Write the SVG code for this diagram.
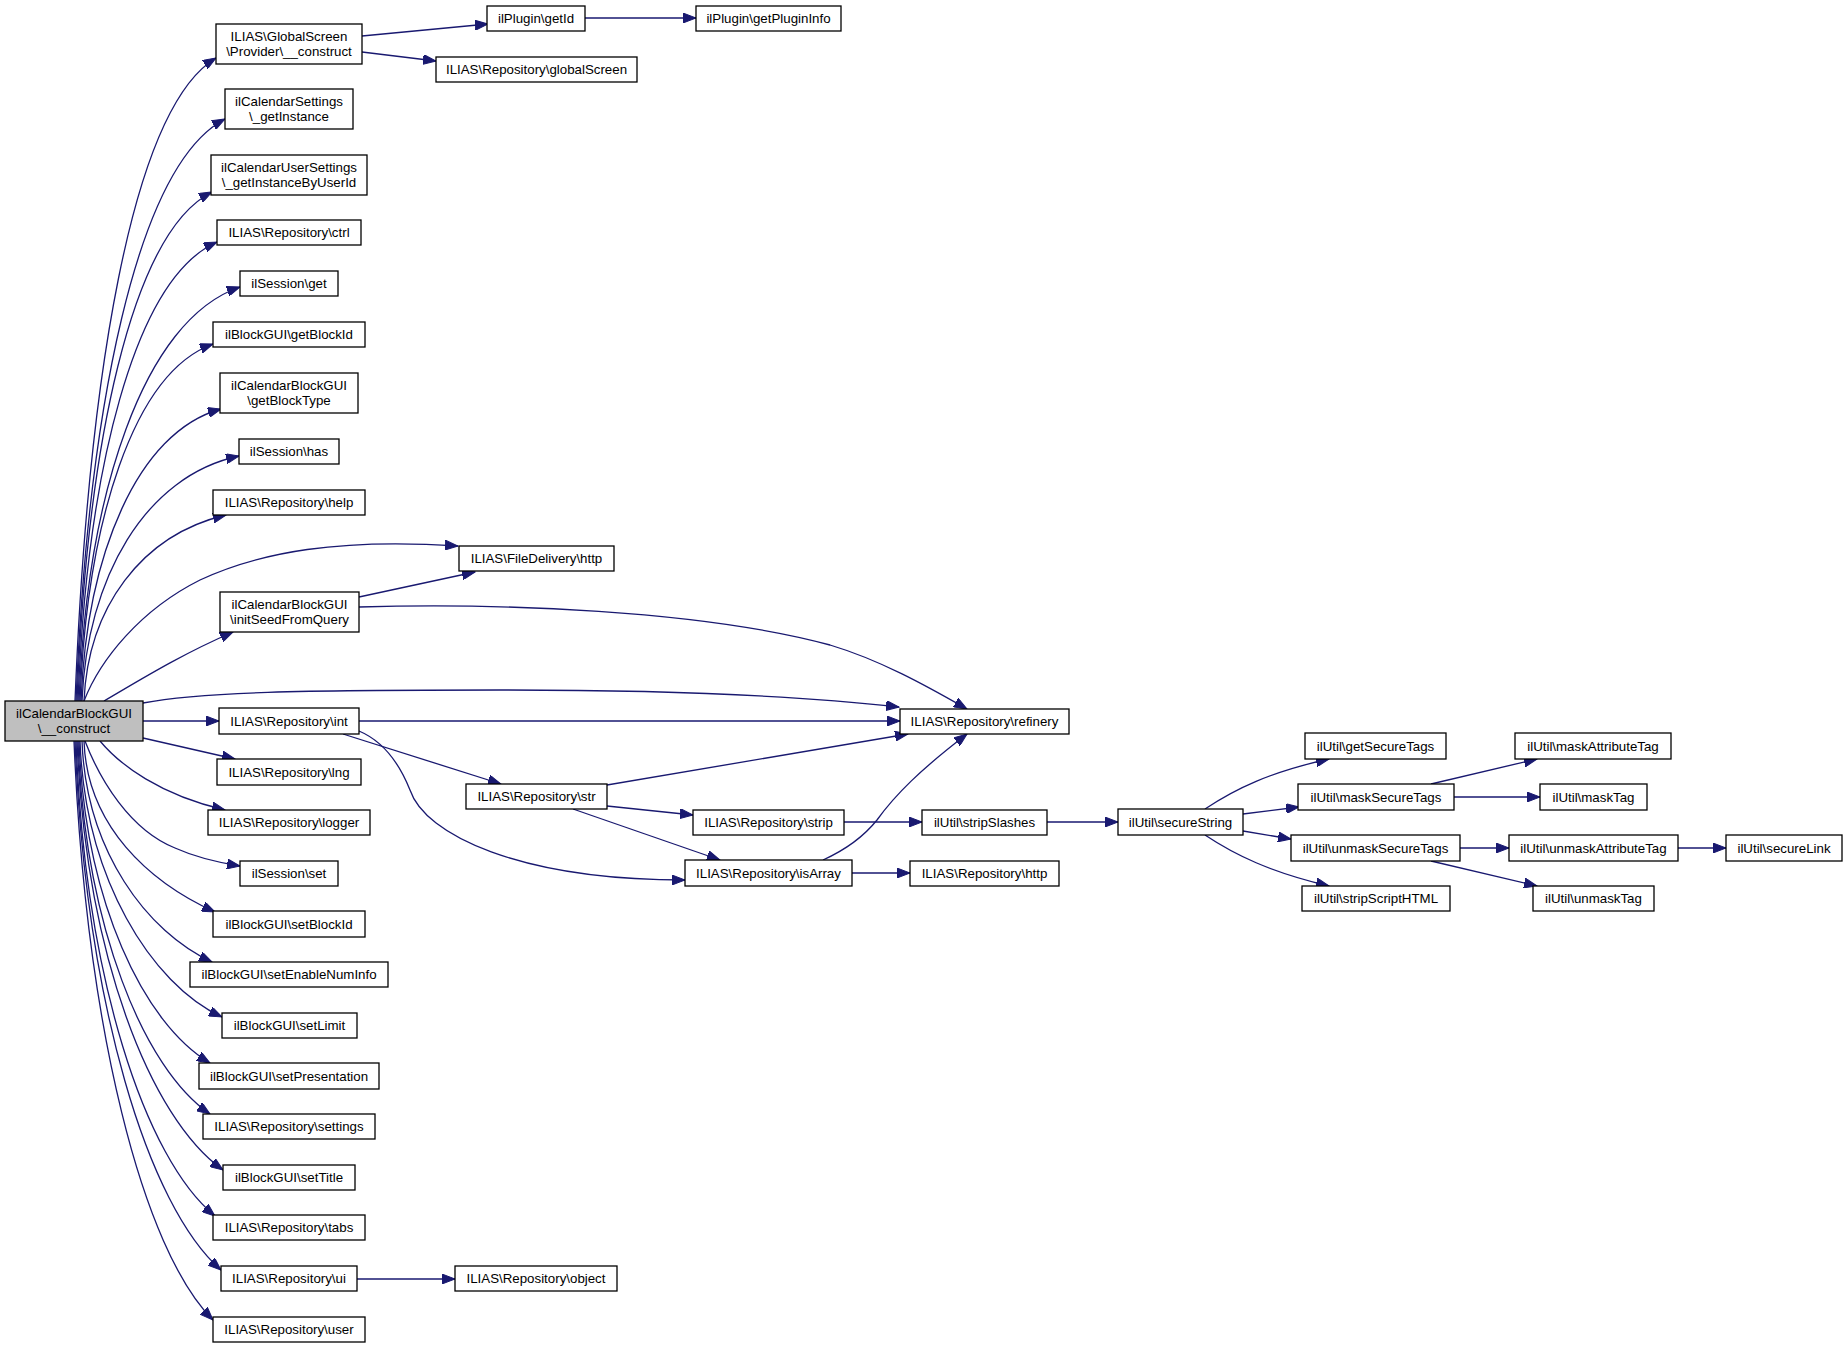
<svg xmlns="http://www.w3.org/2000/svg" width="1844" height="1348" viewBox="0 0 1844 1348">
<style>
.node rect{fill:#ffffff;stroke:#000000;stroke-width:1.3}
.node.root rect{fill:#bfbfbf}
.node text{font-family:"Liberation Sans",Arial,Helvetica,sans-serif;font-size:13.3px;fill:#000000;text-anchor:middle}
.edges path{fill:none;stroke:#191970;stroke-width:1.3;marker-end:url(#arr)}
</style>
<defs>
<marker id="arr" markerUnits="userSpaceOnUse" markerWidth="14" markerHeight="10" refX="13" refY="5" orient="auto">
<path d="M0,0 L13,5 L0,10 z" fill="#191970" stroke="#191970" stroke-width="1"/>
</marker>
</defs>
<rect width="1844" height="1348" fill="#ffffff"/>
<g class="edges">
<path d="M75,701 C88,380 131,109 216,58"/>
<path d="M76,701 C88,410 136,166 225,119"/>
<path d="M77,701 C87,446 131,233 212,192"/>
<path d="M78,701 C87,471 134,279 217,242"/>
<path d="M79,701 C87,494 143,320 240,287"/>
<path d="M80,701 C87,522 133,373 213,344"/>
<path d="M81,701 C87,555 137,432 221,409"/>
<path d="M82,701 C87,578 145,476 239,456"/>
<path d="M84,701 C88,608 141,535 226,515"/>
<path d="M84,701 C100,660 140,610 200,580 C260,552 340,538 458,546"/>
<path d="M104,701 C140,680 180,655 233,632"/>
<path d="M143,703 C200,692 300,690 500,690 C700,690 820,698 899,707"/>
<path d="M143,721 L219,721"/>
<path d="M143,738 L235,759"/>
<path d="M100,741 C120,765 160,795 225,810"/>
<path d="M85,741 C100,780 130,830 175,848 C195,857 215,862 240,866"/>
<path d="M84,741 C87,826 149,882 215,912"/>
<path d="M82,741 C86,851 147,932 212,962"/>
<path d="M80,741 C85,878 151,984 222,1017"/>
<path d="M79,741 C85,902 144,1024 210,1063"/>
<path d="M78,741 C85,927 144,1069 210,1114"/>
<path d="M77,741 C86,955 150,1118 223,1170"/>
<path d="M76,741 C85,978 145,1159 215,1216"/>
<path d="M75,741 C86,1005 148,1206 221,1270"/>
<path d="M74,741 C86,1030 143,1250 213,1320"/>
<path d="M362,36 L488,24"/>
<path d="M362,52 L436,61"/>
<path d="M585,18 L696,18"/>
<path d="M359,597 L475,572"/>
<path d="M359,607 C500,603 700,610 830,645 C880,660 925,685 967,709"/>
<path d="M359,721 L900,721"/>
<path d="M343,734 L501,784"/>
<path d="M359,731 C385,742 400,765 410,790 C425,835 520,880 685,880"/>
<path d="M607,785 L908,734"/>
<path d="M607,806 L693,815"/>
<path d="M573,809 L720,860"/>
<path d="M844,822 L922,822"/>
<path d="M1047,822 L1118,822"/>
<path d="M823,860 C845,850 865,835 877,820 C895,795 920,770 967,734"/>
<path d="M852,873 L910,873"/>
<path d="M357,1279 L455,1279"/>
<path d="M1205,809 C1235,789 1270,772 1329,759"/>
<path d="M1243,814 L1299,807"/>
<path d="M1243,831 L1291,839"/>
<path d="M1205,835 C1235,855 1270,872 1329,886"/>
<path d="M1431,784 L1537,759"/>
<path d="M1454,797 L1540,797"/>
<path d="M1460,848 L1509,848"/>
<path d="M1431,861 L1537,886"/>
<path d="M1678,848 L1726,848"/>
</g>
<g id="node-main" class="node root"><rect x="5" y="701" width="138" height="40"/><text x="74" y="718">ilCalendarBlockGUI</text><text x="74" y="733">\__construct</text></g>
<g id="node-globalscreen-construct" class="node"><rect x="216" y="24" width="146" height="40"/><text x="289" y="41">ILIAS\GlobalScreen</text><text x="289" y="56">\Provider\__construct</text></g>
<g id="node-calsettings" class="node"><rect x="225" y="89" width="128" height="40"/><text x="289" y="106">ilCalendarSettings</text><text x="289" y="121">\_getInstance</text></g>
<g id="node-calusersettings" class="node"><rect x="211" y="155" width="156" height="40"/><text x="289" y="172">ilCalendarUserSettings</text><text x="289" y="187">\_getInstanceByUserId</text></g>
<g id="node-ctrl" class="node"><rect x="217" y="220" width="144" height="25"/><text x="289" y="237">ILIAS\Repository\ctrl</text></g>
<g id="node-session-get" class="node"><rect x="240" y="271" width="98" height="25"/><text x="289" y="288">ilSession\get</text></g>
<g id="node-getblockid" class="node"><rect x="213" y="322" width="152" height="25"/><text x="289" y="339">ilBlockGUI\getBlockId</text></g>
<g id="node-getblocktype" class="node"><rect x="220" y="373" width="138" height="40"/><text x="289" y="390">ilCalendarBlockGUI</text><text x="289" y="405">\getBlockType</text></g>
<g id="node-session-has" class="node"><rect x="239" y="439" width="100" height="25"/><text x="289" y="456">ilSession\has</text></g>
<g id="node-help" class="node"><rect x="213" y="490" width="152" height="25"/><text x="289" y="507">ILIAS\Repository\help</text></g>
<g id="node-filedelivery-http" class="node"><rect x="459" y="546" width="155" height="25"/><text x="536.5" y="563">ILIAS\FileDelivery\http</text></g>
<g id="node-initseed" class="node"><rect x="220" y="592" width="139" height="40"/><text x="289.5" y="609">ilCalendarBlockGUI</text><text x="289.5" y="624">\initSeedFromQuery</text></g>
<g id="node-int" class="node"><rect x="219" y="708" width="140" height="26"/><text x="289" y="725.5">ILIAS\Repository\int</text></g>
<g id="node-lng" class="node"><rect x="217" y="759" width="144" height="26"/><text x="289" y="776.5">ILIAS\Repository\lng</text></g>
<g id="node-logger" class="node"><rect x="208" y="810" width="162" height="25"/><text x="289" y="827">ILIAS\Repository\logger</text></g>
<g id="node-session-set" class="node"><rect x="240" y="861" width="98" height="25"/><text x="289" y="878">ilSession\set</text></g>
<g id="node-setblockid" class="node"><rect x="213" y="911" width="152" height="26"/><text x="289" y="928.5">ilBlockGUI\setBlockId</text></g>
<g id="node-setenablenuminfo" class="node"><rect x="190" y="962" width="198" height="25"/><text x="289" y="979">ilBlockGUI\setEnableNumInfo</text></g>
<g id="node-setlimit" class="node"><rect x="222" y="1013" width="135" height="25"/><text x="289.5" y="1030">ilBlockGUI\setLimit</text></g>
<g id="node-setpresentation" class="node"><rect x="199" y="1063" width="180" height="26"/><text x="289" y="1080.5">ilBlockGUI\setPresentation</text></g>
<g id="node-settings" class="node"><rect x="203" y="1114" width="172" height="25"/><text x="289" y="1131">ILIAS\Repository\settings</text></g>
<g id="node-settitle" class="node"><rect x="223" y="1165" width="132" height="25"/><text x="289" y="1182">ilBlockGUI\setTitle</text></g>
<g id="node-tabs" class="node"><rect x="213" y="1215" width="152" height="25"/><text x="289" y="1232">ILIAS\Repository\tabs</text></g>
<g id="node-ui" class="node"><rect x="221" y="1266" width="136" height="25"/><text x="289" y="1283">ILIAS\Repository\ui</text></g>
<g id="node-user" class="node"><rect x="213" y="1317" width="152" height="25"/><text x="289" y="1334">ILIAS\Repository\user</text></g>
<g id="node-plugin-getid" class="node"><rect x="487" y="6" width="98" height="25"/><text x="536" y="23">ilPlugin\getId</text></g>
<g id="node-plugin-getplugininfo" class="node"><rect x="696" y="6" width="145" height="25"/><text x="768.5" y="23">ilPlugin\getPluginInfo</text></g>
<g id="node-globalscreen" class="node"><rect x="436" y="57" width="201" height="25"/><text x="536.5" y="74">ILIAS\Repository\globalScreen</text></g>
<g id="node-refinery" class="node"><rect x="900" y="709" width="169" height="25"/><text x="984.5" y="726">ILIAS\Repository\refinery</text></g>
<g id="node-str" class="node"><rect x="466" y="784" width="141" height="25"/><text x="536.5" y="801">ILIAS\Repository\str</text></g>
<g id="node-strip" class="node"><rect x="693" y="810" width="151" height="25"/><text x="768.5" y="827">ILIAS\Repository\strip</text></g>
<g id="node-isarray" class="node"><rect x="685" y="860" width="167" height="26"/><text x="768.5" y="877.5">ILIAS\Repository\isArray</text></g>
<g id="node-repo-http" class="node"><rect x="910" y="861" width="149" height="25"/><text x="984.5" y="878">ILIAS\Repository\http</text></g>
<g id="node-stripslashes" class="node"><rect x="922" y="810" width="125" height="25"/><text x="984.5" y="827">ilUtil\stripSlashes</text></g>
<g id="node-object" class="node"><rect x="455" y="1266" width="162" height="25"/><text x="536" y="1283">ILIAS\Repository\object</text></g>
<g id="node-securestring" class="node"><rect x="1118" y="809" width="125" height="26"/><text x="1180.5" y="826.5">ilUtil\secureString</text></g>
<g id="node-getsecuretags" class="node"><rect x="1305" y="733" width="141" height="26"/><text x="1375.5" y="750.5">ilUtil\getSecureTags</text></g>
<g id="node-masksecuretags" class="node"><rect x="1298" y="784" width="156" height="26"/><text x="1376" y="801.5">ilUtil\maskSecureTags</text></g>
<g id="node-unmasksecuretags" class="node"><rect x="1291" y="835" width="169" height="26"/><text x="1375.5" y="852.5">ilUtil\unmaskSecureTags</text></g>
<g id="node-stripscripthtml" class="node"><rect x="1302" y="886" width="148" height="25"/><text x="1376" y="903">ilUtil\stripScriptHTML</text></g>
<g id="node-maskattributetag" class="node"><rect x="1515" y="733" width="156" height="26"/><text x="1593" y="750.5">ilUtil\maskAttributeTag</text></g>
<g id="node-masktag" class="node"><rect x="1540" y="784" width="107" height="26"/><text x="1593.5" y="801.5">ilUtil\maskTag</text></g>
<g id="node-unmaskattributetag" class="node"><rect x="1509" y="835" width="169" height="26"/><text x="1593.5" y="852.5">ilUtil\unmaskAttributeTag</text></g>
<g id="node-unmasktag" class="node"><rect x="1533" y="886" width="121" height="25"/><text x="1593.5" y="903">ilUtil\unmaskTag</text></g>
<g id="node-securelink" class="node"><rect x="1726" y="835" width="116" height="26"/><text x="1784" y="852.5">ilUtil\secureLink</text></g>
</svg>
